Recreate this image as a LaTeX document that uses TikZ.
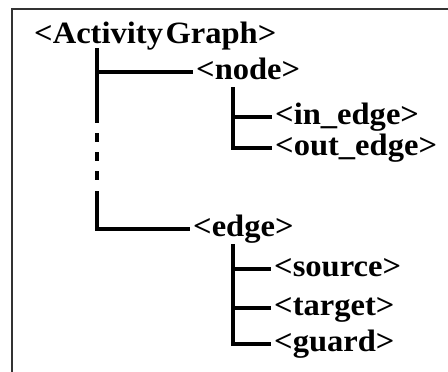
\documentclass[tikz,border=0pt]{standalone}
\usepackage{fontspec}
\newfontfamily\tagfont{Liberation Serif}[FakeStretch=1.05]

\begin{document}
\begin{tikzpicture}
  [x=1pt, y=-1pt,
   every node/.style={font=\tagfont\bfseries\fontsize{31}{31}\selectfont,
     anchor=west, inner xsep=3pt, inner ysep=0pt, text height=14pt, text depth=0pt},
   tree/.style={line width=3.6pt},
   frame/.style={line width=2pt, draw=black!80}]
  \useasboundingbox (0,0) rectangle (448,372);
  \draw[frame] (12,372) -- (12,9) -- (448,9);

  % tags
  \node (graph) at (31,36) {<Activity\kern2.5pt Graph>};
  \node (node) at (193,72) {<node>};
  \node (inedge) at (272,117) {<in\_edge>};
  \node (outedge) at (272,148) {<out\_edge>};
  \node (edge) at (190,229) {<edge>};
  \node (source) at (271,269) {<source>};
  \node (target) at (271,308) {<target>};
  \node (guard) at (271,344) {<guard>};

  % main stem
  \coordinate (trunk) at (97,48);
  \coordinate (gapTop) at (97,123);
  \coordinate (dotsTop) at (97,133);
  \coordinate (dotsBot) at (97,181);
  \coordinate (gapBot) at (97,191);
  \draw[tree] (trunk) -- (gapTop);
  \draw[tree] (trunk |- node.west) -- (node.west);
  \draw[tree, dash pattern=on 9pt off 10pt] (dotsTop) -- (dotsBot);
  \draw[tree] (gapBot) |- (edge.west);

  % children of node
  \coordinate (nodeStem) at (233,87);
  \draw[tree] (nodeStem) |- (outedge.west);
  \draw[tree] (nodeStem |- inedge.west) -- (inedge.west);

  % children of edge
  \coordinate (edgeStem) at (233,244);
  \draw[tree] (edgeStem) |- (guard.west);
  \draw[tree] (edgeStem |- source.west) -- (source.west);
  \draw[tree] (edgeStem |- target.west) -- (target.west);
\end{tikzpicture}
\end{document}
